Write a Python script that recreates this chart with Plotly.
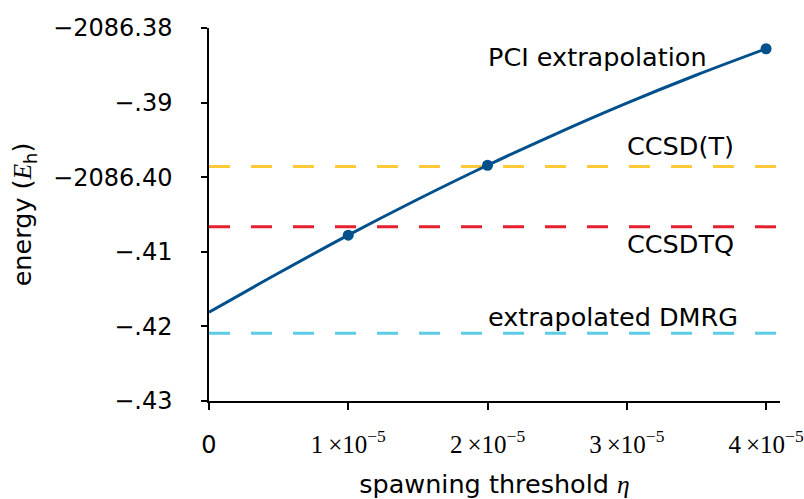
import plotly.graph_objects as go

# PCI data points (spawning threshold, energy)
eta_points = [1e-5, 2e-5, 4e-5]
energy_points = [-2086.40777, -2086.39840, -2086.38278]

# extrapolation curve
eta_curve = [0, 0.5e-5, 1e-5, 1.5e-5, 2e-5, 2.5e-5, 3e-5, 3.5e-5, 4e-5]
energy_curve = [-2086.41810, -2086.41285, -2086.40777, -2086.40296, -2086.39840,
                -2086.39411, -2086.39007, -2086.38630, -2086.38278]

# reference energies
ref_names = ["CCSD(T)", "CCSDTQ", "extrapolated DMRG"]
ref_values = [-2086.39857, -2086.40665, -2086.42091]
ref_colors = ["#FFC937", "#E4202F", "#5BCBE6"]

x_span = [0, 4.1e-5]

y_tickvals = [-2086.38, -2086.39, -2086.40, -2086.41, -2086.42, -2086.43]
y_ticktext = ["−2086.38", "−.39", "−2086.40", "−.41", "−.42", "−.43"]
x_tickvals = [0, 1e-5, 2e-5, 3e-5, 4e-5]
SERIF = "'Liberation Serif', 'DejaVu Serif', serif"
x_ticktext = ["0"] + [
    f"<span style=\"font-family:{SERIF};font-size:25px\">{k}\u2009×10<sup>−5</sup></span>" for k in (1, 2, 3, 4)
]

BLUE = "#00508C"
FONT = "DejaVu Sans"
LBL = 25.5

fig = go.Figure()

for name, val, col in zip(ref_names, ref_values, ref_colors):
    fig.add_trace(go.Scatter(
        x=x_span, y=[val, val], mode="lines",
        line=dict(color=col, width=3, dash="21px,21px"),
        showlegend=False, hoverinfo="skip", name=name,
    ))

fig.add_trace(go.Scatter(
    x=eta_curve, y=energy_curve, mode="lines",
    line=dict(color=BLUE, width=3, shape="spline"),
    showlegend=False, name="PCI extrapolation",
))
fig.add_trace(go.Scatter(
    x=eta_points, y=energy_points, mode="markers",
    marker=dict(color=BLUE, size=11),
    showlegend=False, name="PCI",
))

annots = [
    ("PCI extrapolation", 2e-5, -2086.3839),
    ("CCSD(T)", 3e-5, -2086.3958),
    ("CCSDTQ", 3e-5, -2086.4089),
    ("extrapolated DMRG", 2e-5, -2086.4188),
]
for txt, ax_, ay_ in annots:
    fig.add_annotation(
        x=ax_, y=ay_, xref="x", yref="y", text=txt, showarrow=False,
        xanchor="left", yanchor="middle", xshift=-2,
        font=dict(family=FONT, size=LBL, color="black"),
    )

fig.update_layout(
    width=804, height=499,
    margin=dict(l=209, r=24, t=28, b=98, autoexpand=False),
    paper_bgcolor="white", plot_bgcolor="white",
    font=dict(family=FONT, size=24, color="black"),
    xaxis=dict(
        range=x_span, showgrid=False, zeroline=False, automargin=False,
        showline=True, linecolor="black", linewidth=1.5,
        ticks="outside", ticklen=7, tickwidth=1.5, tickcolor="black",
        tickvals=x_tickvals, ticktext=x_ticktext,
        tickfont=dict(family=FONT, size=24),
        ticklabelstandoff=14, ticklabeloverflow="allow",
        title=dict(text=f"spawning threshold <span style=\"font-family:{SERIF};font-style:italic\">η</span>",
                   font=dict(family=FONT, size=LBL), standoff=22),
    ),
    yaxis=dict(
        range=[-2086.43, -2086.38], showgrid=False, zeroline=False, automargin=False,
        showline=True, linecolor="black", linewidth=1.5,
        ticks="outside", ticklen=6, tickwidth=1.5, tickcolor="black",
        tickvals=y_tickvals, ticktext=y_ticktext,
        tickfont=dict(family=FONT, size=24),
        ticklabelstandoff=24,
        title=dict(text=f"energy (<span style=\"font-family:{SERIF};font-style:italic\">E</span><sub>h</sub>)",
                   font=dict(family=FONT, size=LBL), standoff=14),
    ),
)

fig.write_html("out.html")
